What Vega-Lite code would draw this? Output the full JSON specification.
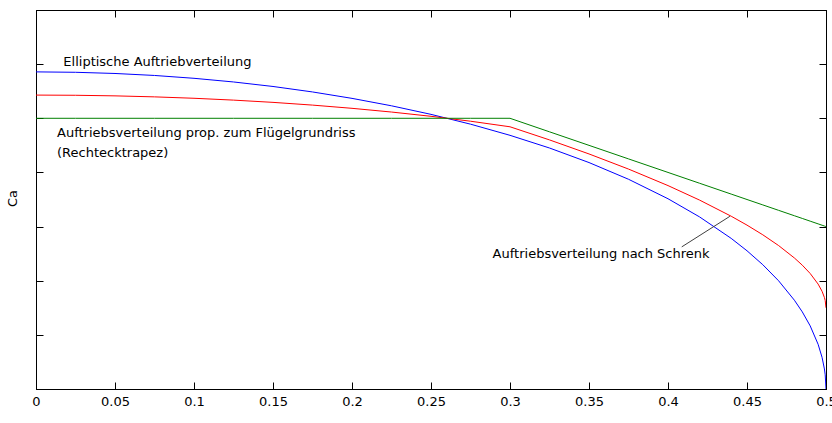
{
  "$schema": "https://vega.github.io/schema/vega-lite/v6.json",
  "width": 790,
  "height": 379,
  "autosize": {"type": "none"},
  "padding": {"left": 36, "top": 10, "right": 6, "bottom": 34},
  "background": "white",
  "config": {
    "font": "DejaVu Sans",
    "view": {"stroke": "#000", "strokeWidth": 1},
    "axis": {
      "domainColor": "#000",
      "tickColor": "#000",
      "labelColor": "#000",
      "titleColor": "#000",
      "labelFont": "DejaVu Sans",
      "titleFont": "DejaVu Sans",
      "labelFontSize": 13,
      "titleFontSize": 13,
      "titleFontWeight": "normal",
      "grid": false,
      "tickSize": -7,
      "domain": true
    }
  },
  "datasets": {
    "curves": [
      {"s": 0, "ell": 1.1714, "schrenk": 1.0857, "trap": 1.0},
      {"s": 0.025, "ell": 1.1699, "schrenk": 1.0850, "trap": 1.0},
      {"s": 0.05, "ell": 1.1655, "schrenk": 1.0828, "trap": 1.0},
      {"s": 0.075, "ell": 1.1582, "schrenk": 1.0791, "trap": 1.0},
      {"s": 0.1, "ell": 1.1477, "schrenk": 1.0739, "trap": 1.0},
      {"s": 0.125, "ell": 1.1342, "schrenk": 1.0671, "trap": 1.0},
      {"s": 0.15, "ell": 1.1175, "schrenk": 1.0588, "trap": 1.0},
      {"s": 0.175, "ell": 1.0973, "schrenk": 1.0487, "trap": 1.0},
      {"s": 0.2, "ell": 1.0736, "schrenk": 1.0368, "trap": 1.0},
      {"s": 0.225, "ell": 1.0461, "schrenk": 1.0231, "trap": 1.0},
      {"s": 0.25, "ell": 1.0145, "schrenk": 1.0073, "trap": 1.0},
      {"s": 0.275, "ell": 0.9783, "schrenk": 0.9892, "trap": 1.0},
      {"s": 0.3, "ell": 0.9371, "schrenk": 0.9686, "trap": 1.0},
      {"s": 0.325, "ell": 0.8902, "schrenk": 0.9201, "trap": 0.95},
      {"s": 0.35, "ell": 0.8365, "schrenk": 0.8683, "trap": 0.9},
      {"s": 0.375, "ell": 0.7748, "schrenk": 0.8124, "trap": 0.85},
      {"s": 0.4, "ell": 0.7028, "schrenk": 0.7514, "trap": 0.8},
      {"s": 0.42, "ell": 0.6356, "schrenk": 0.6978, "trap": 0.76},
      {"s": 0.44, "ell": 0.5564, "schrenk": 0.6382, "trap": 0.72},
      {"s": 0.45, "ell": 0.5106, "schrenk": 0.6053, "trap": 0.70},
      {"s": 0.46, "ell": 0.4591, "schrenk": 0.5696, "trap": 0.68},
      {"s": 0.47, "ell": 0.3997, "schrenk": 0.5299, "trap": 0.66},
      {"s": 0.48, "ell": 0.3280, "schrenk": 0.4840, "trap": 0.64},
      {"s": 0.485, "ell": 0.2848, "schrenk": 0.4574, "trap": 0.63},
      {"s": 0.49, "ell": 0.2331, "schrenk": 0.4266, "trap": 0.62},
      {"s": 0.495, "ell": 0.1652, "schrenk": 0.3876, "trap": 0.61},
      {"s": 0.4975, "ell": 0.1170, "schrenk": 0.3610, "trap": 0.605},
      {"s": 0.499, "ell": 0.0740, "schrenk": 0.3380, "trap": 0.602},
      {"s": 0.4995, "ell": 0.0524, "schrenk": 0.3267, "trap": 0.601},
      {"s": 0.5, "ell": 0.0, "schrenk": 0.3, "trap": 0.6}
    ],
    "labels": [
      {"s": 0.0173, "ca": 1.207, "text": "Elliptische Auftriebverteilung"},
      {"s": 0.0133, "ca": 0.945, "text": "Auftriebsverteilung prop. zum Flügelgrundriss"},
      {"s": 0.0133, "ca": 0.871, "text": "(Rechtecktrapez)"},
      {"s": 0.289, "ca": 0.498, "text": "Auftriebsverteilung nach Schrenk"}
    ],
    "leader": [
      {"s": 0.4087, "ca": 0.525},
      {"s": 0.4392, "ca": 0.638}
    ]
  },
  "layer": [
    {
      "data": {"name": "curves"},
      "mark": {"type": "line", "color": "#0000ff", "strokeWidth": 1, "clip": true},
      "encoding": {
        "x": {
          "field": "s", "type": "quantitative",
          "scale": {"domain": [0, 0.5], "nice": false, "zero": false},
          "axis": {
            "orient": "bottom",
            "values": [0, 0.05, 0.1, 0.15, 0.2, 0.25, 0.3, 0.35, 0.4, 0.45, 0.5],
            "format": "~g",
            "labelPadding": 13,
            "labelFlush": false,
            "labelOverlap": false,
            "title": "S",
            "titleY": 406
          }
        },
        "y": {
          "field": "ell", "type": "quantitative",
          "scale": {"domain": [0, 1.4], "nice": false, "zero": false},
          "axis": {
            "orient": "left",
            "values": [0, 0.2, 0.4, 0.6, 0.8, 1.0, 1.2, 1.4],
            "labels": false,
            "title": "Ca",
            "titleX": -17,
            "titleY": 188
          }
        }
      }
    },
    {
      "data": {"name": "curves"},
      "mark": {"type": "line", "color": "#ff0000", "strokeWidth": 1, "clip": true},
      "encoding": {
        "x": {
          "field": "s", "type": "quantitative",
          "scale": {"domain": [0, 0.5], "nice": false, "zero": false},
          "axis": {
            "orient": "top",
            "values": [0, 0.05, 0.1, 0.15, 0.2, 0.25, 0.3, 0.35, 0.4, 0.45, 0.5],
            "labels": false,
            "title": null
          }
        },
        "y": {
          "field": "schrenk", "type": "quantitative",
          "scale": {"domain": [0, 1.4], "nice": false, "zero": false},
          "axis": {
            "orient": "right",
            "values": [0, 0.2, 0.4, 0.6, 0.8, 1.0, 1.2, 1.4],
            "labels": false,
            "title": null
          }
        }
      }
    },
    {
      "data": {"name": "curves"},
      "mark": {"type": "line", "color": "#008000", "strokeWidth": 1, "clip": true},
      "encoding": {
        "x": {"field": "s", "type": "quantitative", "scale": {"domain": [0, 0.5], "nice": false, "zero": false}, "axis": null},
        "y": {"field": "trap", "type": "quantitative", "scale": {"domain": [0, 1.4], "nice": false, "zero": false}, "axis": null}
      }
    },
    {
      "data": {"name": "leader"},
      "mark": {"type": "line", "color": "#404040", "strokeWidth": 1},
      "encoding": {
        "x": {"field": "s", "type": "quantitative", "axis": null},
        "y": {"field": "ca", "type": "quantitative", "axis": null}
      }
    },
    {
      "data": {"name": "labels"},
      "mark": {"type": "text", "align": "left", "baseline": "middle", "font": "DejaVu Sans", "fontSize": 13, "color": "#000"},
      "encoding": {
        "x": {"field": "s", "type": "quantitative", "axis": null},
        "y": {"field": "ca", "type": "quantitative", "axis": null},
        "text": {"field": "text"}
      }
    }
  ],
  "resolve": {"axis": {"x": "independent", "y": "independent"}}
}
